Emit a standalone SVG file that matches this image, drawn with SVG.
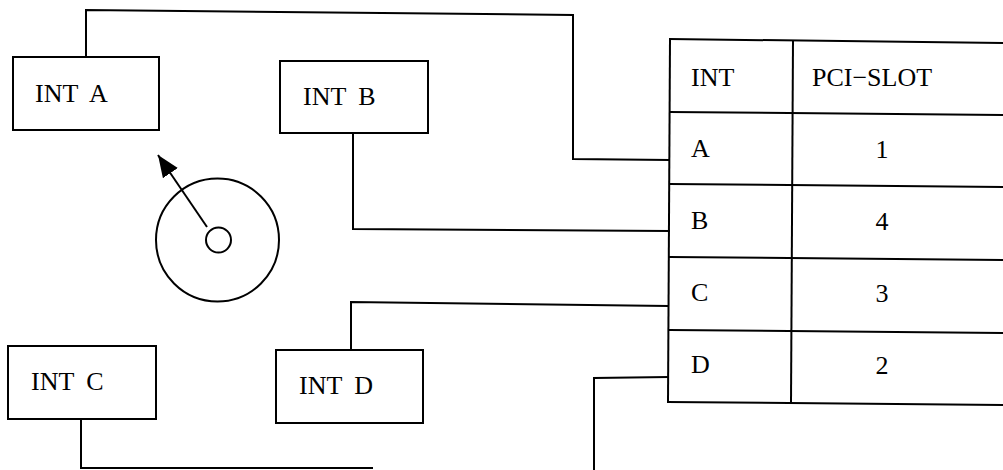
<svg xmlns="http://www.w3.org/2000/svg" width="1003" height="470" viewBox="0 0 1003 470">
<style>
.ln{fill:none;stroke:#000;stroke-width:2;stroke-linejoin:miter}
.bx{fill:#fff;stroke:#000;stroke-width:2}
.t{font-family:"Liberation Serif","Times New Roman",serif;font-size:26px;fill:#000}
.lb{word-spacing:6px}
.c{text-anchor:middle}
</style>
<defs>
<marker id="ah" markerUnits="userSpaceOnUse" markerWidth="24" markerHeight="20" refX="22" refY="9" orient="auto">
<path d="M0,0 L22,9 L0,18 Z" fill="#000"/>
</marker>
</defs>
<rect width="1003" height="470" fill="#fff"/>
<g id="connectors">
<polyline class="ln" points="86,57 86,10 573,15 573,159 670,160"/>
<polyline class="ln" points="353,133 353,229 670,231"/>
<polyline class="ln" points="81,419 81,468 373,468"/>
<polyline class="ln" points="351,351 351,302 669,306"/>
<polyline class="ln" points="669,377 594,378 594,470"/>
</g>
<g id="intA"><rect class="bx" x="13" y="57" width="146" height="73"/><text class="t lb" x="35" y="102">INT A</text></g>
<g id="intB"><rect class="bx" x="280" y="61" width="148" height="72"/><text class="t lb" x="303" y="105">INT B</text></g>
<g id="intC"><rect class="bx" x="8" y="346" width="148" height="73"/><text class="t lb" x="31" y="390">INT C</text></g>
<g id="intD"><rect class="bx" x="276" y="350" width="147" height="73"/><text class="t lb" x="299" y="394">INT D</text></g>
<g id="rotor">
<circle class="ln" cx="217.5" cy="240" r="61.5"/>
<circle class="ln" cx="218.5" cy="240" r="12.5"/>
<line class="ln" x1="207" y1="227" x2="158" y2="155" marker-end="url(#ah)"/>
</g>
<g id="table">
<line class="ln" x1="670" y1="39" x2="668" y2="403"/>
<line class="ln" x1="793" y1="40" x2="791" y2="403"/>
<line class="ln" x1="669" y1="39" x2="1003" y2="43"/>
<line class="ln" x1="669" y1="112" x2="1003" y2="115"/>
<line class="ln" x1="669" y1="184" x2="1003" y2="187"/>
<line class="ln" x1="669" y1="257" x2="1003" y2="260"/>
<line class="ln" x1="669" y1="330" x2="1003" y2="333"/>
<line class="ln" x1="667" y1="402" x2="1003" y2="405"/>
<text class="t" x="691" y="86">INT</text>
<text class="t" x="812" y="86">PCI−SLOT</text>
<text class="t" x="691" y="157">A</text>
<text class="t c" x="882" y="158">1</text>
<text class="t" x="691" y="229">B</text>
<text class="t c" x="882" y="230">4</text>
<text class="t" x="691" y="301">C</text>
<text class="t c" x="882" y="302">3</text>
<text class="t" x="691" y="373">D</text>
<text class="t c" x="882" y="374">2</text>
</g>
</svg>
